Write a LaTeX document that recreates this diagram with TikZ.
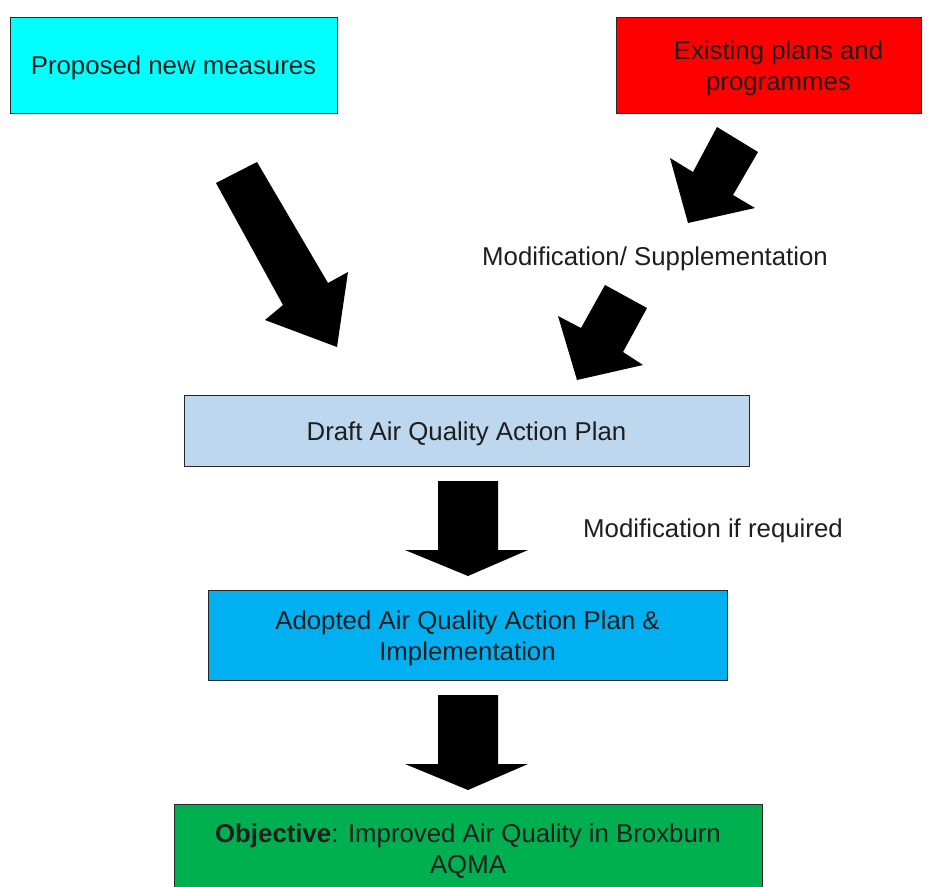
\documentclass[tikz,border=0pt]{standalone}
\usepackage{fontspec}
\setmainfont{Liberation Sans}
\definecolor{cyanbox}{RGB}{0,255,255}
\definecolor{redbox}{RGB}{255,0,0}
\definecolor{draftbox}{RGB}{189,215,238}
\definecolor{adoptbox}{RGB}{0,176,240}
\definecolor{objbox}{RGB}{0,176,80}
\definecolor{textcol}{RGB}{30,30,30}
\begin{document}
\begin{tikzpicture}[x=1pt,y=-1pt,
  box/.style={draw=black!85,line width=1pt,inner sep=0pt},
  lbl/.style={inner sep=0pt,align=center,text=textcol,font=\fontsize{25.8}{31}\selectfont},
  blockarrow/.style={fill=black,draw=none}]
\useasboundingbox (0,0) rectangle (931,886);
\clip (0,0) rectangle (931,886);
\fill[white] (0,0) rectangle (931,886);
% boxes
\node[box,fill=cyanbox,minimum width=327pt,minimum height=96pt] (prop) at (173.5,65) {};
\node[box,fill=redbox,minimum width=305pt,minimum height=96pt] (exist) at (768.5,65) {};
\node[box,fill=draftbox,minimum width=565pt,minimum height=71pt] (draft) at (466.5,430.5) {};
\node[box,fill=adoptbox,minimum width=519pt,minimum height=90pt] (adopt) at (467.5,635) {};
\node[box,fill=objbox,minimum width=588pt,minimum height=88pt] (obj) at (468,848) {};
% box texts
\node[lbl] (proptxt) at ([yshift=-3pt]prop.center) {Proposed new measures};
\node[lbl] (existtxt) at ([xshift=10pt,yshift=-3pt]exist.center) {Existing plans and\\programmes};
\node[lbl] (drafttxt) at ([yshift=-3pt]draft.center) {Draft Air Quality Action Plan};
\node[lbl] (adopttxt) at ([yshift=-3pt]adopt.center) {Adopted Air Quality Action Plan \&\\Implementation};
\node[lbl] (objtxt) at ([yshift=-3pt]obj.center) {\textbf{Objective}: Improved Air Quality in Broxburn\\AQMA};
% labels
\node[lbl] (modsup) at (655,259) {Modification/ Supplementation};
\node[lbl] (modreq) at (713,531) {Modification if required};
% block arrows
\fill[blockarrow] (216,183) -- (257,162) -- (328,283) -- (348,272) -- (337,347) -- (265,320) -- (283,305) -- cycle;
\fill[blockarrow] (717,127) -- (758,152) -- (733,195) -- (755,208) -- (688,223) -- (670,158) -- (693,172) -- cycle;
\fill[blockarrow] (605,285) -- (647,308) -- (623,352) -- (643,365) -- (577,380) -- (558,316) -- (581,328) -- cycle;
\fill[blockarrow] (438,481) -- (498,481) -- (498,550) -- (528,550) -- (468,576) -- (405,550) -- (438,550) -- cycle;
\fill[blockarrow] (438,695) -- (498,695) -- (498,764) -- (528,764) -- (468,790) -- (405,764) -- (438,764) -- cycle;
\end{tikzpicture}
\end{document}
